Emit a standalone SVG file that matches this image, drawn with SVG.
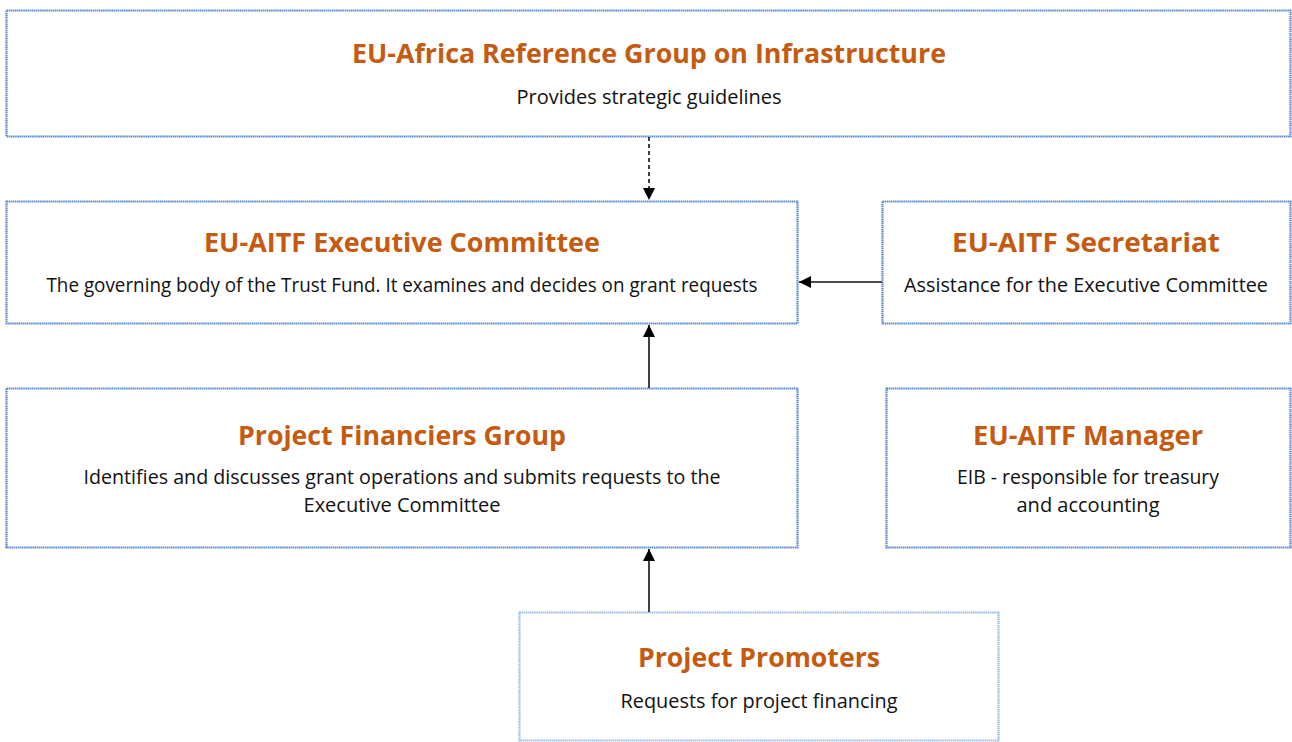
<svg xmlns="http://www.w3.org/2000/svg" width="1292" height="742" viewBox="0 0 1292 742">
<defs>
<style>
.box{fill:#ffffff;stroke:#5A89CC;stroke-width:2.2;stroke-dasharray:1.5 0.6}
.box2{fill:#ffffff;stroke:#9DBDE6;stroke-width:2.2;stroke-dasharray:1.5 0.6}
.t{font-family:"Open Sans","Liberation Sans",sans-serif;font-weight:bold;font-size:27px;fill:#C55A11;text-anchor:middle}
.b{font-family:"Open Sans","Liberation Sans",sans-serif;font-size:20px;fill:#111111;text-anchor:middle}
.c{stroke:#111111;stroke-width:1.6;fill:none}
</style>
<marker id="ah" viewBox="0 0 12 12" refX="12" refY="6" markerWidth="12" markerHeight="12" markerUnits="userSpaceOnUse" orient="auto">
<path d="M0,0 L12,6 L0,12 Z" fill="#000000"/>
</marker>
</defs>
<rect width="1292" height="742" fill="#ffffff"/>
<g id="ref-group">
<rect class="box" x="6.5" y="10.5" width="1284" height="126"/>
<text class="t" x="649" y="63" textLength="594" lengthAdjust="spacingAndGlyphs">EU-Africa Reference Group on Infrastructure</text>
<text class="b" x="649" y="104" textLength="265" lengthAdjust="spacingAndGlyphs">Provides strategic guidelines</text>
</g>
<g id="exec-committee">
<rect class="box" x="6.5" y="201.5" width="791" height="122"/>
<text class="t" x="402" y="252" textLength="396" lengthAdjust="spacingAndGlyphs">EU-AITF Executive Committee</text>
<text class="b" x="402" y="292" textLength="711" lengthAdjust="spacingAndGlyphs">The governing body of the Trust Fund. It examines and decides on grant requests</text>
</g>
<g id="secretariat">
<rect class="box" x="882.5" y="201.5" width="408" height="122"/>
<text class="t" x="1086" y="252" textLength="268" lengthAdjust="spacingAndGlyphs">EU-AITF Secretariat</text>
<text class="b" x="1086" y="292" textLength="364" lengthAdjust="spacingAndGlyphs">Assistance for the Executive Committee</text>
</g>
<g id="financiers">
<rect class="box" x="6.5" y="388.5" width="791" height="159"/>
<text class="t" x="402" y="445" textLength="328" lengthAdjust="spacingAndGlyphs">Project Financiers Group</text>
<text class="b" x="402" y="484" textLength="637" lengthAdjust="spacingAndGlyphs">Identifies and discusses grant operations and submits requests to the</text>
<text class="b" x="402" y="512" textLength="197" lengthAdjust="spacingAndGlyphs">Executive Committee</text>
</g>
<g id="manager">
<rect class="box" x="886.5" y="388.5" width="404" height="159"/>
<text class="t" x="1088" y="445" textLength="230" lengthAdjust="spacingAndGlyphs">EU-AITF Manager</text>
<text class="b" x="1088" y="484" textLength="262" lengthAdjust="spacingAndGlyphs">EIB - responsible for treasury</text>
<text class="b" x="1088" y="512" textLength="143" lengthAdjust="spacingAndGlyphs">and accounting</text>
</g>
<g id="promoters">
<rect class="box2" x="519.5" y="612.5" width="479" height="128"/>
<text class="t" x="759" y="667" textLength="242" lengthAdjust="spacingAndGlyphs">Project Promoters</text>
<text class="b" x="759" y="708" textLength="277" lengthAdjust="spacingAndGlyphs">Requests for project financing</text>
</g>
<g id="connectors">
<path class="c" d="M649,137 L649,200" stroke-dasharray="4 3" marker-end="url(#ah)"/>
<path class="c" d="M882,282 L799,282" marker-end="url(#ah)"/>
<path class="c" d="M649,388 L649,325" marker-end="url(#ah)"/>
<path class="c" d="M649,612 L649,549" marker-end="url(#ah)"/>
</g>
</svg>
